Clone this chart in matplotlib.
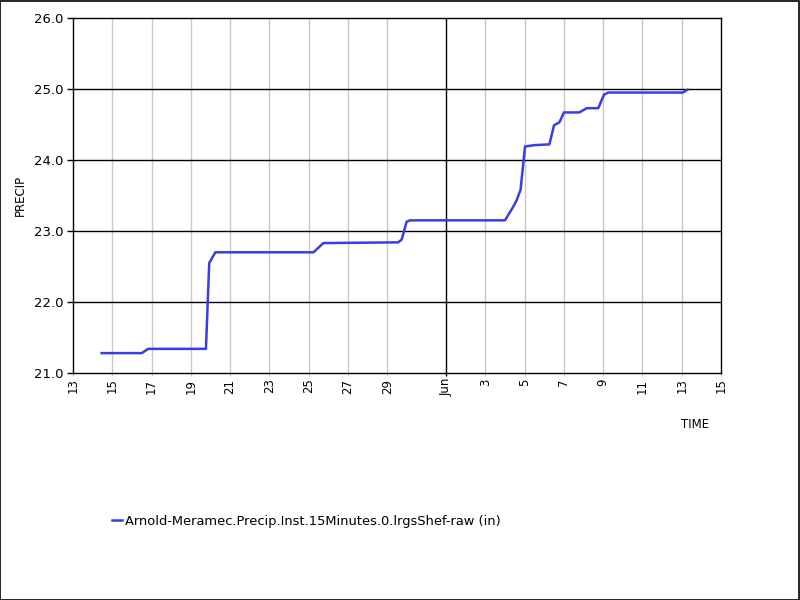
import matplotlib
matplotlib.use("Agg")
import matplotlib.pyplot as plt
import matplotlib.dates as mdates
from matplotlib.patches import Rectangle
import pandas as pd

# ---- data ----
times = [
    "2023-05-14 11:00", "2023-05-16 12:00", "2023-05-16 20:00", "2023-05-19 18:30",
    "2023-05-19 22:30", "2023-05-20 06:00", "2023-05-25 06:00", "2023-05-25 18:00",
    "2023-05-29 13:30", "2023-05-29 17:45", "2023-05-29 23:45", "2023-05-30 04:00",
    "2023-06-04 00:00", "2023-06-04 10:00", "2023-06-04 14:30", "2023-06-04 19:00",
    "2023-06-05 00:30", "2023-06-05 12:45", "2023-06-06 06:15", "2023-06-06 12:00",
    "2023-06-06 18:30", "2023-06-07 00:00", "2023-06-07 18:45", "2023-06-08 04:00",
    "2023-06-08 18:00", "2023-06-09 01:00", "2023-06-09 06:15", "2023-06-13 01:15",
    "2023-06-13 07:15",
]
precip = [
    21.28, 21.28, 21.34, 21.34,
    22.55, 22.70, 22.70, 22.83,
    22.84, 22.88, 23.13, 23.15,
    23.15, 23.34, 23.44, 23.58,
    24.19, 24.21, 24.22, 24.49,
    24.53, 24.67, 24.67, 24.73,
    24.73, 24.92, 24.95, 24.95,
    24.99,
]
series_name = "Arnold-Meramec.Precip.Inst.15Minutes.0.lrgsShef-raw (in)"

xtick_dates = ["2023-05-13", "2023-05-15", "2023-05-17", "2023-05-19", "2023-05-21",
               "2023-05-23", "2023-05-25", "2023-05-27", "2023-05-29", "2023-06-01",
               "2023-06-03", "2023-06-05", "2023-06-07", "2023-06-09", "2023-06-11",
               "2023-06-13", "2023-06-15"]
xtick_labels = ["13", "15", "17", "19", "21", "23", "25", "27", "29", "Jun",
                "3", "5", "7", "9", "11", "13", "15"]
ytick_vals = [21.0, 22.0, 23.0, 24.0, 25.0, 26.0]
ytick_labels = ["21.0", "22.0", "23.0", "24.0", "25.0", "26.0"]

# ---- figure ----
plt.rcParams['font.family'] = ['DejaVu Sans']
fig = plt.figure(figsize=(8, 6), dpi=100)
fig.patch.set_facecolor("white")
ax = fig.add_axes([73 / 800, 1 - 373 / 600, 648 / 800, 355 / 600])

t = pd.to_datetime(times)
xt = pd.to_datetime(xtick_dates)
month_start = pd.Timestamp("2023-06-01")

# grid lines
for d in xt[1:-1]:
    if d == month_start:
        ax.axvline(d, color="black", lw=1.0, zorder=1)
    else:
        ax.axvline(d, color="#c8c8c8", lw=1.0, zorder=1)
for v in ytick_vals[1:-1]:
    ax.axhline(v, color="black", lw=1.0, zorder=1)

line, = ax.plot(t, precip, color="#3c3ce6", lw=1.8, zorder=3, label=series_name)

ax.set_xlim(xt[0], xt[-1])
ax.set_ylim(ytick_vals[0], ytick_vals[-1])

ax.set_xticks(xt)
ax.set_xticklabels(xtick_labels, rotation=90, va="top", ha="center", fontsize=8.5)
ax.set_yticks(ytick_vals)
ax.set_yticklabels(ytick_labels, fontsize=9.5)

ax.tick_params(axis="y", direction="out", length=4, width=1, pad=3)
ax.tick_params(axis="x", direction="out", length=2, width=0.8, pad=2, colors="black")
for tk, d in zip(ax.xaxis.get_major_ticks(), xt):
    if d == month_start:
        tk.tick1line.set_markersize(13.5)
        tk.set_pad(1)
        tk.tick1line.set_markeredgewidth(1.0)
    else:
        tk.tick1line.set_markeredgecolor("#c8c8c8")

for s in ax.spines.values():
    s.set_color("black")
    s.set_linewidth(1.0)

fig.text(20 / 800, 1 - 195 / 600, "PRECIP", rotation=90, ha="center", va="center", fontsize=8.5)
fig.text(695 / 800, 1 - 424 / 600, "TIME", ha="center", va="center", fontsize=8.5)

fig.legend(handles=[line], labels=[series_name], loc="center left",
           bbox_to_anchor=(112 / 800, 1 - 521 / 600), frameon=False,
           handlelength=0.8, handletextpad=0.2, fontsize=9.4, borderpad=0, borderaxespad=0)

fig.add_artist(Rectangle((0.0005, 0.0008), 0.998, 0.998, transform=fig.transFigure,
                         fill=False, edgecolor="black", lw=1.2))

fig.savefig("out.png", dpi=100, facecolor="white")
